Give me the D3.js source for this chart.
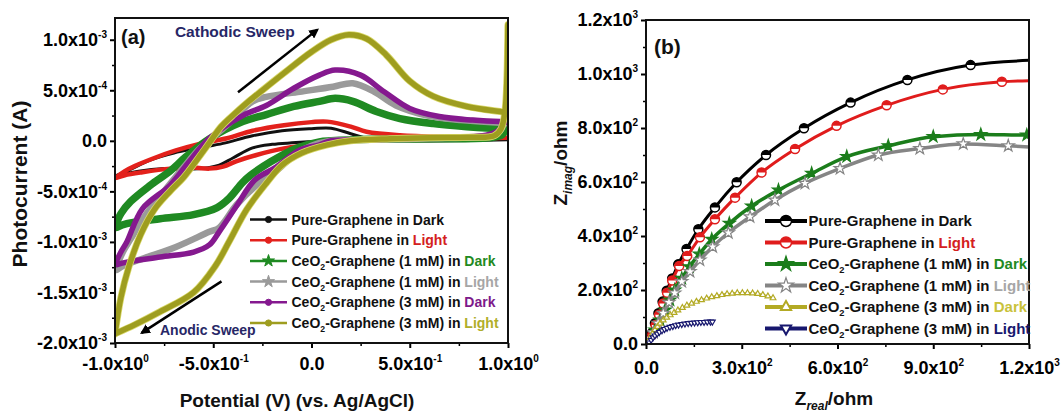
<!DOCTYPE html>
<html>
<head>
<meta charset="utf-8">
<script src="https://cdn.jsdelivr.net/npm/d3@7"></script>
<style>
  body { margin: 0; background: #fff; }
  svg { display: block; }
  text { font-family: "Liberation Sans", Arial, Helvetica, sans-serif; font-weight: bold; }
</style>
</head>
<body>
<svg id="chart" width="1062" height="412"></svg>
<script>
// ---------- (a) cyclic sweeps: [potential V, current in 1e-4 A] ----------
// forward branch (-1 V -> +1 V) and return branch (+1 V -> -1 V)
const pureDarkFwd = [[-1.0,-3.5],[-0.93,-2.9],[-0.82,-1.9],[-0.7,-1.2],[-0.57,-0.7],[-0.45,-0.25],[-0.3,0.5],[-0.15,1.0],[0.0,1.2],[0.1,1.25],[0.2,0.7],[0.3,0.2],[0.45,0.1],[0.7,0.1],[1.0,0.1]];
const pureDarkRev = [[1.0,0.1],[0.7,0.0],[0.4,0.0],[0.2,0.0],[0.05,-0.05],[-0.1,-0.2],[-0.2,-0.35],[-0.3,-0.7],[-0.4,-1.7],[-0.47,-2.4],[-0.6,-2.8],[-0.75,-2.75],[-0.88,-3.0],[-0.99,-3.45]];

const pureLightFwd = [[-1.0,-3.7],[-0.95,-3.0],[-0.9,-2.5],[-0.8,-1.7],[-0.69,-0.95],[-0.57,-0.3],[-0.43,0.25],[-0.3,1.0],[-0.14,1.55],[0.0,1.85],[0.08,1.9],[0.2,1.4],[0.28,0.9],[0.45,0.55],[0.7,0.4],[0.95,0.35],[1.0,0.3]];
const pureLightRev = [[1.0,0.3],[0.9,0.25],[0.6,0.2],[0.3,0.15],[0.1,0.0],[0.0,-0.35],[-0.14,-0.75],[-0.28,-1.4],[-0.38,-2.0],[-0.45,-2.55],[-0.52,-2.75],[-0.6,-2.65],[-0.72,-2.75],[-0.86,-3.1],[-0.95,-3.4],[-0.99,-3.65]];

const ceo1DarkFwd = [[-1.0,-8.5],[-0.97,-7.2],[-0.92,-6.0],[-0.82,-4.4],[-0.72,-3.0],[-0.64,-1.6],[-0.52,0.2],[-0.35,1.9],[-0.23,2.6],[-0.09,3.4],[0.04,3.9],[0.12,4.2],[0.21,3.9],[0.33,2.9],[0.45,2.2],[0.62,1.7],[0.79,1.4],[0.96,1.2],[1.0,1.2]];
const ceo1DarkRev = [[1.0,1.6],[0.97,0.6],[0.9,0.3],[0.6,0.2],[0.3,0.15],[0.1,0.0],[0.04,-0.1],[-0.08,-0.75],[-0.21,-2.1],[-0.31,-3.4],[-0.35,-4.1],[-0.42,-5.7],[-0.48,-6.6],[-0.6,-7.3],[-0.77,-7.7],[-0.94,-8.2],[-0.99,-8.55]];

const ceo1LightFwd = [[-1.0,-12.8],[-0.96,-11.0],[-0.92,-9.7],[-0.85,-7.5],[-0.75,-5.0],[-0.65,-2.6],[-0.57,-0.8],[-0.43,1.55],[-0.3,3.9],[-0.23,4.35],[-0.06,4.85],[0.11,5.35],[0.21,5.7],[0.32,4.85],[0.43,3.5],[0.59,2.5],[0.76,2.05],[0.96,1.8],[1.0,1.8]];
const ceo1LightRev = [[1.0,4.4],[0.99,2.5],[0.96,1.0],[0.9,0.5],[0.6,0.25],[0.3,0.1],[0.1,0.0],[0.0,-0.5],[-0.08,-1.3],[-0.18,-3.0],[-0.28,-4.4],[-0.38,-6.3],[-0.47,-8.6],[-0.52,-9.0],[-0.69,-10.5],[-0.85,-11.6],[-0.95,-12.3],[-0.99,-12.75]];

const ceo3DarkFwd = [[-1.0,-12.2],[-0.97,-11.0],[-0.94,-10.0],[-0.86,-6.7],[-0.72,-4.4],[-0.62,-2.0],[-0.52,0.25],[-0.35,2.5],[-0.23,3.5],[-0.09,5.2],[0.04,6.5],[0.12,7.0],[0.25,6.5],[0.37,4.85],[0.5,3.2],[0.65,2.4],[0.82,2.05],[0.96,1.9],[1.0,1.9]];
const ceo3DarkRev = [[1.0,5.3],[0.99,3.0],[0.96,1.2],[0.9,0.6],[0.6,0.3],[0.3,0.1],[0.1,0.0],[0.04,-0.4],[-0.06,-0.9],[-0.18,-2.6],[-0.29,-3.9],[-0.38,-6.4],[-0.47,-9.0],[-0.52,-10.3],[-0.6,-11.0],[-0.77,-11.5],[-0.94,-12.0],[-0.99,-12.25]];

const ceo3LightFwd = [[-1.0,-19.1],[-0.97,-15.5],[-0.93,-12.5],[-0.87,-9.3],[-0.8,-6.8],[-0.72,-5.0],[-0.65,-3.6],[-0.58,-1.8],[-0.52,-0.2],[-0.46,1.4],[-0.39,2.7],[-0.32,3.9],[-0.25,5.0],[-0.14,6.7],[0.0,8.8],[0.1,10.0],[0.19,10.5],[0.28,10.1],[0.38,8.5],[0.5,5.9],[0.62,4.4],[0.79,3.4],[0.96,2.9],[1.0,2.8]];
const ceo3LightRev = [[1.0,11.5],[0.995,6.5],[0.985,3.0],[0.965,1.2],[0.93,0.5],[0.8,0.35],[0.6,0.3],[0.4,0.2],[0.2,0.0],[0.08,-0.4],[-0.05,-1.2],[-0.15,-2.4],[-0.23,-4.2],[-0.33,-6.8],[-0.42,-10.0],[-0.49,-12.4],[-0.6,-15.0],[-0.77,-16.9],[-0.9,-18.2],[-0.99,-19.0]];

// ---------- (b) impedance: [Z_real ohm, Z_imag ohm] ----------
const eisPureDark = [[18,40],[28,77],[39,114],[52,157],[65,197],[82,243],[101,295],[127,352],[164,425],[216,506],[284,599],[376,700],[495,799],[641,894],[819,978],[1017,1033],[1230,1052]];
const eisPureLight = [[20,35],[30,70],[41,108],[54,150],[66,190],[82,235],[104,289],[129,326],[169,395],[216,462],[279,542],[362,635],[467,722],[597,808],[754,884],[930,943],[1115,971],[1230,976]];
const eisCeo1Dark = [[28,52],[44,89],[60,126],[75,163],[90,200],[112,243],[136,286],[167,333],[206,388],[261,447],[331,511],[415,570],[519,632],[629,694],[759,734],[900,768],[1049,776],[1193,774],[1230,774]];
const eisCeo1Light = [[23,42],[38,77],[54,114],[72,154],[90,189],[112,231],[138,268],[169,311],[209,360],[258,412],[326,471],[404,533],[498,595],[608,650],[728,700],[858,724],[994,741],[1135,734],[1230,728]];
const eisCeo3Dark = [[8,10],[14,25],[20,38],[28,52],[36,64],[44,76],[54,88],[65,98],[76,107],[88,116],[100,125],[114,134],[128,143],[143,150],[158,157],[174,163],[190,169],[206,174],[222,178],[238,182],[254,185],[270,187],[286,189],[302,189],[318,189],[334,188],[350,186],[366,182],[382,177],[398,170]];
const eisCeo3Light = [[10,5],[16,15],[22,24],[28,31],[35,38],[42,44],[50,50],[58,55],[66,59],[75,63],[84,66],[93,69],[102,71],[112,73],[122,75],[132,77],[142,78],[152,79],[162,80],[172,81],[182,81],[192,82],[202,82],[208,82]];

// ---------- names, ticks ----------
const sampleNames = ["Pure-Graphene", "Pure-Graphene", "CeO2-Graphene (1 mM)", "CeO2-Graphene (1 mM)", "CeO2-Graphene (3 mM)", "CeO2-Graphene (3 mM)"];
const conditions = ["Dark", "Light", "Dark", "Light", "Dark", "Light"];

const aXTicks = [-1.0, -0.5, 0, 0.5, 1.0];
const aXMinor = [-0.75, -0.25, 0.25, 0.75];
const aYTicks = [-20, -15, -10, -5, 0, 5, 10];          // in 1e-4 A
const aYMinor = [-17.5, -12.5, -7.5, -2.5, 2.5, 7.5];
const bXTicks = [0, 300, 600, 900, 1200];
const bXMinor = [150, 450, 750, 1050];
const bYTicks = [0, 200, 400, 600, 800, 1000, 1200];
const bYMinor = [100, 300, 500, 700, 900, 1100];

// ---------- styling ----------
const colorsA = ["#111111", "#e3211c", "#1f8a22", "#9a9a9a", "#85198f", "#9e9d1f"];
const widthsA = [3, 4.5, 7.5, 6.5, 5.5, 5.5];
const wordColorsA = ["#111111", "#d42020", "#1f8a22", "#a6a6a6", "#7d1a8a", "#b0ae2a"];
const colorsB = ["#000000", "#e01c1c", "#1b7d1b", "#858585", "#b3aa24", "#17176e"];
const widthsB = [3, 3, 3.5, 3.5, 2, 2.5];
const wordColorsB = ["#111111", "#d42020", "#1f8a22", "#a6a6a6", "#c9c23a", "#17176e"];

const svg = d3.select("#chart");
svg.append("rect").attr("width", 1062).attr("height", 412).attr("fill", "#fff");

const defs = svg.append("defs");
defs.append("marker").attr("id", "arrowHead").attr("viewBox", "0 0 10 10")
  .attr("refX", 8).attr("refY", 5).attr("markerWidth", 4).attr("markerHeight", 4)
  .attr("orient", "auto").attr("markerUnits", "strokeWidth")
  .append("path").attr("d", "M0,0 L10,5 L0,10 Z").attr("fill", "#000");

// scientific tick label: mantissa "x10" + raised exponent
function sciLabel(scaleFactor) {
  return function(sel) {
    sel.each(function(d) {
      const t = d3.select(this).text(null);
      const v = d * scaleFactor;
      if (Math.abs(v) < 1e-12) { t.text("0.0"); return; }
      const [m, e] = v.toExponential(1).split("e");
      t.append("tspan").text(m + "x10");
      t.append("tspan").attr("font-size", 10).attr("dy", -8).text(String(+e));
    });
  };
}

function drawAxes(g, x, y, xt, xm, yt, ym, xFactor, yFactor, xLabY) {
  const [x0, x1] = x.range(), [y0, y1] = y.range();
  const ax = g.append("g").attr("transform", `translate(0,${y0})`)
    .call(d3.axisBottom(x).tickValues(xt).tickSize(5).tickSizeOuter(0));
  ax.select(".domain").remove();
  ax.selectAll("line").attr("stroke-width", 2);
  ax.selectAll("text").attr("y", xLabY).attr("dy", "0.71em").call(sciLabel(xFactor));
  const axm = g.append("g").attr("transform", `translate(0,${y0})`)
    .call(d3.axisBottom(x).tickValues(xm).tickSize(3).tickFormat(""));
  axm.select(".domain").remove();
  axm.selectAll("line").attr("stroke-width", 1.5);

  const ay = g.append("g").attr("transform", `translate(${x0},0)`)
    .call(d3.axisLeft(y).tickValues(yt).tickSize(5).tickSizeOuter(0));
  ay.select(".domain").remove();
  ay.selectAll("line").attr("stroke-width", 2);
  ay.selectAll("text").attr("x", -8).call(sciLabel(yFactor));
  const aym = g.append("g").attr("transform", `translate(${x0},0)`)
    .call(d3.axisLeft(y).tickValues(ym).tickSize(3).tickFormat(""));
  aym.select(".domain").remove();
  aym.selectAll("line").attr("stroke-width", 1.5);

  [ax, ay].forEach(a => a.attr("font-size", 18).attr("font-family", null).attr("fill", "#111"));
  g.append("rect").attr("x", x0).attr("y", y1).attr("width", x1 - x0).attr("height", y0 - y1)
    .attr("fill", "none").attr("stroke", "#111").attr("stroke-width", 2);
}

function legendLabel(t, name, cond, fs, wordColor) {
  if (name.startsWith("CeO2")) {
    t.append("tspan").text("CeO");
    t.append("tspan").attr("font-size", fs * 0.62).attr("dy", 4).text("2");
    t.append("tspan").attr("dy", -4).text(name.slice(4) + " in ");
  } else {
    t.append("tspan").text(name + " in ");
  }
  t.append("tspan").attr("fill", wordColor).text(cond);
}

// ================= panel (a) =================
const xA = d3.scaleLinear().domain([-1, 1]).range([115, 508]);
const yA = d3.scaleLinear().domain([-20, 12.15]).range([343, 18]);
const gA = svg.append("g");
defs.append("clipPath").attr("id", "clipA").append("rect")
  .attr("x", 115).attr("y", 18).attr("width", 393).attr("height", 325);

const loopsA = [
  pureDarkFwd.concat(pureDarkRev), pureLightFwd.concat(pureLightRev),
  ceo1DarkFwd.concat(ceo1DarkRev), ceo1LightFwd.concat(ceo1LightRev),
  ceo3DarkFwd.concat(ceo3DarkRev), ceo3LightFwd.concat(ceo3LightRev)
];
const lineA = d3.line().x(d => xA(d[0])).y(d => yA(d[1])).curve(d3.curveCatmullRom.alpha(0.5));
const plotA = gA.append("g").attr("clip-path", "url(#clipA)");
loopsA.forEach((loop, i) => {
  if (i === 5) {
    plotA.append("path").datum(loop).attr("d", lineA).attr("fill", "none")
      .attr("stroke", "#d9d86a").attr("stroke-width", widthsA[i] + 1.5)
      .attr("stroke-linejoin", "round").attr("stroke-linecap", "round");
  }
  plotA.append("path").datum(loop).attr("d", lineA).attr("fill", "none")
    .attr("stroke", colorsA[i]).attr("stroke-width", widthsA[i])
    .attr("stroke-linejoin", "round").attr("stroke-linecap", "round");
});

drawAxes(gA, xA, yA, aXTicks, aXMinor, aYTicks, aYMinor, 1, 1e-4, 14);

// sweep annotations
gA.append("line").attr("x1", xA(-0.374)).attr("y1", yA(4.8)).attr("x2", xA(0.03)).attr("y2", yA(11.0))
  .attr("stroke", "#000").attr("stroke-width", 2.5).attr("marker-end", "url(#arrowHead)");
gA.append("text").attr("x", xA(-0.695)).attr("y", yA(10.3)).attr("font-size", 15.5)
  .attr("fill", "#272766").text("Cathodic Sweep");
gA.append("line").attr("x1", xA(-0.458)).attr("y1", yA(-13.9)).attr("x2", xA(-0.864)).attr("y2", yA(-19.0))
  .attr("stroke", "#000").attr("stroke-width", 2.5).attr("marker-end", "url(#arrowHead)");
gA.append("text").attr("x", xA(-0.771)).attr("y", yA(-19.2)).attr("font-size", 14)
  .attr("fill", "#272766").text("Anodic Sweep");

gA.append("text").attr("x", 121).attr("y", 43.5).attr("font-size", 20).attr("fill", "#111").text("(a)");

// legend (a)
const symA = [d3.symbolCircle, d3.symbolCircle, d3.symbolStar, d3.symbolStar, d3.symbolCircle, d3.symbolCircle];
const legA = gA.append("g");
conditions.forEach((c, i) => {
  const yy = 219.5 + i * 20.7;
  legA.append("line").attr("x1", 250).attr("x2", 287).attr("y1", yy).attr("y2", yy)
    .attr("stroke", colorsA[i]).attr("stroke-width", 2.5);
  legA.append("path").attr("transform", `translate(268.5,${yy})`)
    .attr("d", d3.symbol(symA[i], symA[i] === d3.symbolStar ? 45 : 30)())
    .attr("fill", colorsA[i]).attr("stroke", colorsA[i]).attr("stroke-width", 1);
  const t = legA.append("text").attr("x", 291.5).attr("y", yy + 5).attr("font-size", 14).attr("fill", "#111");
  legendLabel(t, sampleNames[i], c, 14, wordColorsA[i]);
});

gA.append("text").attr("transform", "translate(27,184) rotate(-90)").attr("text-anchor", "middle")
  .attr("font-size", 21).attr("fill", "#111").text("Photocurrent (A)");
gA.append("text").attr("x", 297).attr("y", 407).attr("text-anchor", "middle")
  .attr("font-size", 19).attr("fill", "#111").text("Potential (V) (vs. Ag/AgCl)");

// ================= panel (b) =================
const xB = d3.scaleLinear().domain([0, 1200]).range([646, 1029]);
const yB = d3.scaleLinear().domain([0, 1200]).range([344, 20]);
const gB = svg.append("g");
defs.append("clipPath").attr("id", "clipB").append("rect")
  .attr("x", 646).attr("y", 20).attr("width", 383).attr("height", 324);

const eisSeries = [eisPureDark, eisPureLight, eisCeo1Dark, eisCeo1Light, eisCeo3Dark, eisCeo3Light];
const lineB = d3.line().x(d => xB(d[0])).y(d => yB(d[1])).curve(d3.curveMonotoneX);
const plotB = gB.append("g").attr("clip-path", "url(#clipB)");

const halfTop = r => `M${-r},0A${r},${r} 0 0 1 ${r},0Z`;
function drawMarker(g, i, big) {
  const c = colorsB[i];
  if (i < 2) {
    const r = big ? 5.5 : 4.5;
    g.append("circle").attr("r", r).attr("fill", "#fff").attr("stroke", c).attr("stroke-width", 1.5);
    g.append("path").attr("d", halfTop(r)).attr("fill", c);
  } else if (i < 4) {
    g.append("path").attr("d", d3.symbol(d3.symbolStar, big ? 70 : 45)())
      .attr("fill", i === 2 ? c : "#fff").attr("stroke", c).attr("stroke-width", 1.2);
  } else {
    g.append("path").attr("d", d3.symbol(d3.symbolTriangle, big ? 45 : 14)())
      .attr("transform", i === 5 ? "rotate(180)" : null)
      .attr("fill", "#fff").attr("stroke", c).attr("stroke-width", big ? 2 : 1.2);
  }
}

eisSeries.forEach((s, i) => {
  plotB.append("path").datum(s).attr("d", lineB).attr("fill", "none")
    .attr("stroke", colorsB[i]).attr("stroke-width", widthsB[i]).attr("stroke-linejoin", "round");
  s.forEach(p => {
    const m = plotB.append("g").attr("transform", `translate(${xB(p[0])},${yB(p[1])})`);
    drawMarker(m, i, false);
  });
});

drawAxes(gB, xB, yB, bXTicks, bXMinor, bYTicks, bYMinor, 1, 1, 17);

gB.append("text").attr("x", 654).attr("y", 54).attr("font-size", 21).attr("fill", "#111").text("(b)");

// legend (b)
const legB = gB.append("g");
conditions.forEach((c, i) => {
  const yy = 221 + i * 21.5;
  legB.append("line").attr("x1", 765).attr("x2", 807).attr("y1", yy).attr("y2", yy)
    .attr("stroke", colorsB[i]).attr("stroke-width", 4);
  drawMarker(legB.append("g").attr("transform", `translate(786,${yy})`), i, true);
  const t = legB.append("text").attr("x", 808.5).attr("y", yy + 5.3).attr("font-size", 15).attr("fill", "#111");
  legendLabel(t, sampleNames[i], c, 15, wordColorsB[i]);
});

// axis titles (b)
const tY = gB.append("text").attr("transform", "translate(567,163) rotate(-90)").attr("text-anchor", "middle")
  .attr("font-size", 19).attr("fill", "#111");
tY.append("tspan").text("Z");
tY.append("tspan").attr("font-size", 12).attr("font-style", "italic").attr("dy", 5).text("imag");
tY.append("tspan").attr("dy", -5).text("/ohm");
const tX = gB.append("text").attr("x", 834).attr("y", 405).attr("text-anchor", "middle")
  .attr("font-size", 19).attr("fill", "#111");
tX.append("tspan").text("Z");
tX.append("tspan").attr("font-size", 12).attr("font-style", "italic").attr("dy", 5).text("real");
tX.append("tspan").attr("dy", -5).text("/ohm");
</script>
</body>
</html>
